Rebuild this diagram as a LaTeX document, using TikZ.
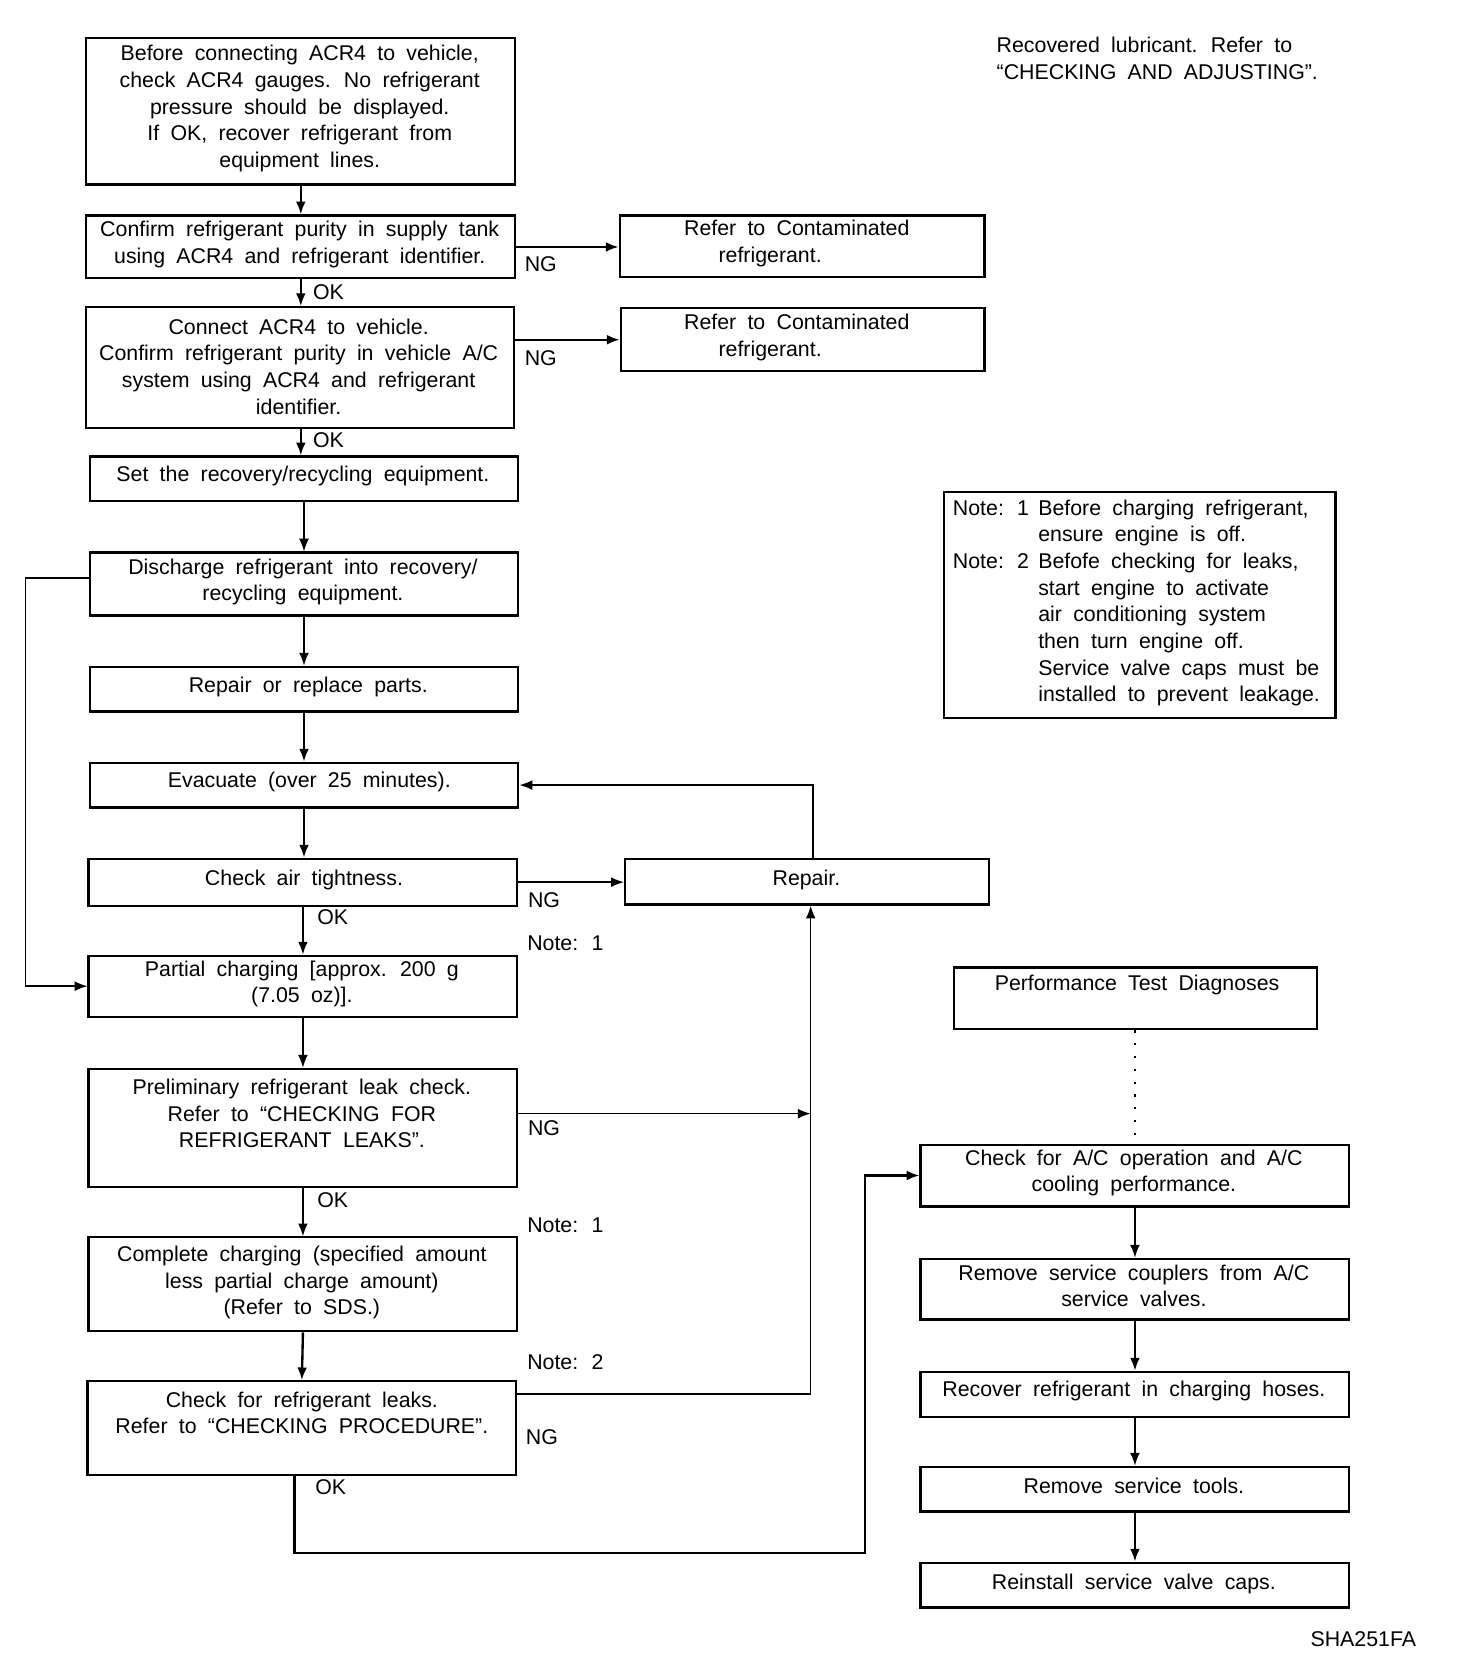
\documentclass[tikz,border=0pt]{standalone}
\usepackage{fontspec}
\setmainfont{Liberation Sans}[WordSpace=1.9]
\usetikzlibrary{arrows.meta}
\newcommand\bx[5]{\node[box, minimum width={(#4-#2)*0.5pt}, minimum height={(#5-#3)*0.5pt}] (#1) at (#2,#3) {};}
\begin{document}
\begin{tikzpicture}[x=0.5pt,y=-0.5pt,
 box/.style={draw, line width=1pt, inner sep=0pt, anchor=north west},
 txt/.style={align=center, font=\fontsize{10}{12.5}\selectfont, inner sep=0pt},
 lab/.style={font=\fontsize{10}{12.5}\selectfont, inner sep=0pt},
 arr/.style={line width=0.7pt, -{Latex[length=6pt,width=4.6pt]}},
 tarr/.style={line width=1.1pt, -{Latex[length=6pt,width=4.6pt]}},
 ln/.style={line width=0.7pt}]
\useasboundingbox (0,0) rectangle (1380,1565.6);
% left column boxes
\bx{b1}{80}{35}{482}{172}
\bx{b2}{80}{201}{482}{260}
\bx{r1}{580}{201}{922}{259}
\bx{b3}{80}{287}{481}{400}
\bx{r2}{581}{288}{922}{347}
\bx{b4}{83}{427}{485}{469}
\bx{b5}{83}{517}{485}{576}
\bx{b6}{83}{624}{485}{666}
\bx{b7}{83}{714}{485}{756}
\bx{b8}{82}{804}{484}{848}
\bx{rep}{585}{804}{926}{847}
\bx{b9}{82}{895}{484}{952}
\bx{b10}{82}{1001}{484}{1112}
\bx{b11}{82}{1159}{484}{1247}
\bx{b12}{81}{1294}{483}{1382}
% right column boxes
\bx{note}{884}{460}{1251}{672}
\bx{perf}{893}{906}{1234}{964}
\bx{A}{862}{1072}{1264}{1130}
\bx{B}{862}{1179}{1264}{1236}
\bx{C}{862}{1285}{1264}{1327}
\bx{D}{862}{1374}{1264}{1416}
\bx{E}{862}{1464}{1264}{1506}
% texts
\node[txt] (b1t) at (281,102) {Before connecting ACR4 to vehicle,\\check ACR4 gauges. No refrigerant\\pressure should be displayed.\\If OK, recover refrigerant from\\equipment lines.};
\node[txt] (b2t) at (281,229.5) {Confirm refrigerant purity in supply tank\\using ACR4 and refrigerant identifier.};
\node[txt] (r1t) at (747,228.5) {Refer to Contaminated\\refrigerant.\hspace*{25pt}};
\node[txt] (b3t) at (280,343.5) {Connect ACR4 to vehicle.\\Confirm refrigerant purity in vehicle A/C\\system using ACR4 and refrigerant\\identifier.};
\node[txt] (r2t) at (747,316.5) {Refer to Contaminated\\refrigerant.\hspace*{25pt}};
\node[txt] (b4t) at (284,446) {Set the recovery/recycling equipment.};
\node[txt] (b5t) at (284,545.5) {Discharge refrigerant into recovery/\\recycling equipment.};
\node[txt] (b6t) at (289,644) {Repair or replace parts.};
\node[txt] (b7t) at (290,733) {Evacuate (over 25 minutes).};
\node[txt] (b8t) at (285,825) {Check air tightness.};
\node[txt] (rept) at (756,825) {Repair.};
\node[txt] (b9t) at (283,922.5) {Partial charging [approx. 200 g\\(7.05 oz)].};
\node[txt] (b10t) at (283,1044) {Preliminary refrigerant leak check.\\Refer to “CHECKING FOR\\REFRIGERANT LEAKS”.};
\node[txt] (b11t) at (283,1202.5) {Complete charging (specified amount\\less partial charge amount)\\(Refer to SDS.)};
\node[txt] (b12t) at (283,1324.5) {Check for refrigerant leaks.\\Refer to “CHECKING PROCEDURE”.};
\node[txt] (perft) at (1066,923) {Performance Test Diagnoses};
\node[txt] (At) at (1063,1099.5) {Check for A/C operation and A/C\\cooling performance.};
\node[txt] (Bt) at (1063,1205.5) {Remove service couplers from A/C\\service valves.};
\node[txt] (Ct) at (1063,1304) {Recover refrigerant in charging hoses.};
\node[txt] (Dt) at (1063,1393) {Remove service tools.};
\node[txt] (Et) at (1063,1485) {Reinstall service valve caps.};
\node[lab, anchor=base west] (notet) at (893,483) {\begin{tabular}[t]{@{}p{40pt}@{}l@{}}
Note: 1 & Before charging refrigerant,\\
 & ensure engine is off.\\
Note: 2 & Befofe checking for leaks,\\
 & start engine to activate\\
 & air conditioning system\\
 & then turn engine off.\\
 & Service valve caps must be\\
 & installed to prevent leakage.
\end{tabular}};
\node[lab, align=left, anchor=west] (rec) at (934,54.5) {Recovered lubricant. Refer to\\“CHECKING AND ADJUSTING”.};
\node[lab, anchor=east] (code) at (1328,1537) {SHA251FA};
% labels
\node[lab] (ng1) at (507,248) {NG};
\node[lab] (ng2) at (507,336) {NG};
\node[lab] (ng3) at (510,844) {NG};
\node[lab] (ng4) at (510,1058) {NG};
\node[lab] (ng5) at (508,1347) {NG};
\node[lab] (ok1) at (308,274) {OK};
\node[lab] (ok2) at (308,413) {OK};
\node[lab] (ok3) at (312,860) {OK};
\node[lab] (ok4) at (312,1125) {OK};
\node[lab] (ok5) at (310,1394) {OK};
\node[lab] (n1) at (530,884) {Note: 1};
\node[lab] (n2) at (530,1149) {Note: 1};
\node[lab] (n3) at (530,1277) {Note: 2};
% coordinates
\coordinate (vx) at (760,0);
\coordinate (rx) at (762,0);
\coordinate (ny) at (760,1307);
\coordinate (lx) at (24,542);
\coordinate (oka) at (276,1456);
\coordinate (okb) at (811,1456);
% connectors
\draw[tarr] (b1.south) -- (b1.south |- b2.north);
\draw[tarr] (b2.south -| b1.south) -- (b1.south |- b3.north);
\draw[tarr] (b3.south -| b1.south) -- (b1.south |- b4.north);
\draw[arr] (b4.south) -- (b5.north);
\draw[arr] (b5.south) -- (b6.north);
\draw[tarr] (b6.south) -- (b7.north);
\draw[tarr] (b7.south) -- (b7.south |- b8.north);
\draw[tarr] (b8.south -| b9.north) -- (b9.north);
\draw[arr] (b9.south) -- (b10.north);
\draw[arr] (b10.south) -- (b11.north);
\draw[tarr] (b11.south) -- (b12.north);
\draw[tarr] (b2.east) -- (b2.east -| r1.west);
\draw[tarr] (b3.east |- r2.west) -- (r2.west);
\draw[arr] (b8.east) -- (b8.east -| rep.west);
\draw[arr] (rx |- rep.north) |- (b7.east);
\draw[arr] (b10.east |- b10t) -- (vx |- b10t);
\draw[arr] (b12.east |- ny) -- (ny) -- (vx |- rep.south);
\draw[arr] (b5.west |- lx) -- (lx) |- (b9.west);
\draw[tarr] (b12.south -| oka) -- (oka) -- (okb) |- (A.west);
\draw[line width=0.8pt, dash pattern=on 1pt off 5pt] (perf.south -| A.north) -- (A.north);
\draw[arr] (A.south) -- (B.north);
\draw[tarr] (B.south) -- (C.north);
\draw[arr] (C.south) -- (D.north);
\draw[tarr] (D.south) -- (E.north);
\end{tikzpicture}
\end{document}
